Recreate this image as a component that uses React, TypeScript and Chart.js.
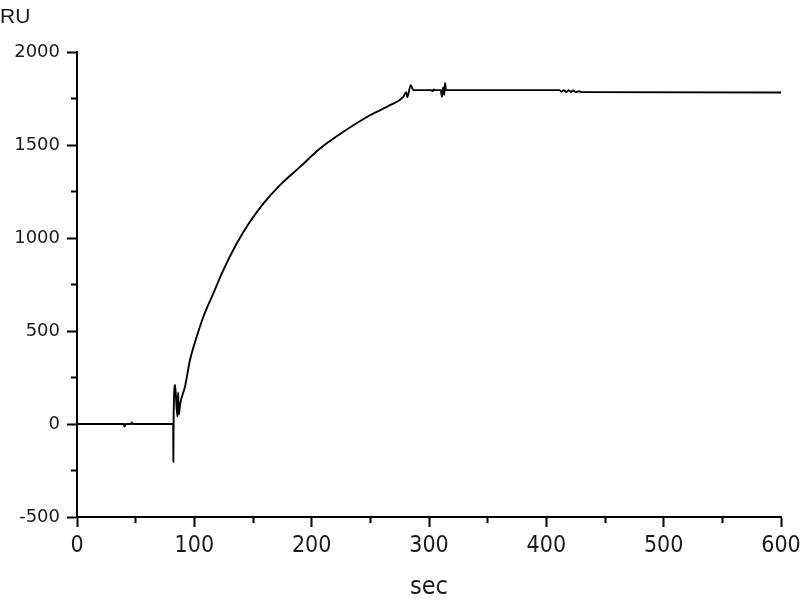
import { useEffect, useRef } from "react"
import { Chart, registerables } from "chart.js"

Chart.register(...registerables)

// sensorgram (seconds / response units)
const SECONDS = [
  0, 40, 40.5, 41.5, 46, 46.6, 47.5, 82, 82.1, 82.4, 83.6, 85.5, 86.2, 86.8, 88,
  92, 96.3, 102, 107.7, 116.2, 124.7, 136.1, 147.4, 158.8, 173, 190.1, 207.1,
  227, 249.7, 266.8, 278.1, 280.5, 281.5, 284.4, 286.7, 302, 303, 304, 305,
  310, 311, 312, 313, 313.6, 314.5, 411, 413, 415, 417, 419, 421, 423, 425,
  428, 430, 600,
]
const RU = [
  0, 0, -14, 0, 0, 9, 0, 0, -203, 60, 210, 40, 170, 50, 110,
  200, 344, 469, 577, 703, 828, 971, 1088, 1186, 1285, 1383, 1482,
  1572, 1661, 1715, 1760, 1785, 1758, 1823, 1796, 1796, 1790, 1800, 1796,
  1796, 1760, 1810, 1770, 1835, 1796, 1796, 1788, 1796, 1786, 1795, 1786, 1794, 1785,
  1790, 1785, 1783,
]

const X_MIN = 0
const X_MAX = 600
const Y_MIN = -500
const Y_MAX = 2000
const X_TITLE = "sec"
const Y_TITLE = "RU"

const INK = "#1a1a1a"

export default function App() {
  const canvasRef = useRef<HTMLCanvasElement>(null)

  useEffect(() => {
    const canvas = canvasRef.current
    if (!canvas) return

    const chart = new Chart(canvas, {
      type: "line",
      data: {
        datasets: [
          {
            label: Y_TITLE,
            data: SECONDS.map((s, i) => ({ x: s, y: RU[i] })),
            borderColor: "#000",
            borderWidth: 1.9,
            pointRadius: 0,
            cubicInterpolationMode: "monotone",
            fill: false,
          },
        ],
      },
      options: {
        animation: false,
        responsive: true,
        maintainAspectRatio: false,
        layout: { padding: 0 },
        plugins: {
          legend: { display: false },
          tooltip: { enabled: false },
          title: {
            display: true,
            text: Y_TITLE,
            align: "start",
            color: INK,
            font: { family: "'Liberation Sans', Arial, sans-serif", size: 21, weight: "normal", lineHeight: 1.2 },
            padding: { top: 5, bottom: 22 },
          },
        },
        scales: {
          x: {
            type: "linear",
            min: X_MIN,
            max: X_MAX,
            afterFit: (scale) => {
              scale.height = 83
              scale.paddingRight = 19
              scale.paddingLeft = 0
            },
            border: { display: true, color: "#000", width: 2 },
            grid: {
              drawOnChartArea: false,
              drawTicks: true,
              tickLength: 10,
              tickColor: "#000",
              tickWidth: 2,
              // minor ticks (every 50 s) are drawn short, from the axis outwards
              tickBorderDash: (ctx) => (ctx.tick && ctx.tick.value % 100 !== 0 ? [5, 40] : []),
            },
            ticks: {
              stepSize: 50,
              autoSkip: false,
              maxRotation: 0,
              padding: 5,
              color: INK,
              font: { family: "'DejaVu Sans Condensed', 'DejaVu Sans', sans-serif", size: 23 },
              callback: (v) => (Number(v) % 100 === 0 ? String(v) : ""),
            },
            title: {
              display: true,
              text: X_TITLE,
              color: INK,
              font: { family: "'Liberation Sans Narrow', 'DejaVu Sans Condensed', sans-serif", size: 25, lineHeight: 1 },
              padding: 0,
            },
          },
          y: {
            type: "linear",
            min: Y_MIN,
            max: Y_MAX,
            afterFit: (scale) => {
              scale.width = 77
            },
            border: { display: true, color: "#000", width: 2 },
            grid: {
              drawOnChartArea: false,
              drawTicks: true,
              tickLength: 10,
              tickColor: "#000",
              tickWidth: 2,
              // left-axis tick lines run from the outer end to the axis
              tickBorderDash: (ctx) => (ctx.tick && ctx.tick.value % 500 !== 0 ? [0, 4, 5, 40] : []),
            },
            ticks: {
              stepSize: 250,
              autoSkip: false,
              padding: 7,
              color: INK,
              font: { family: "'DejaVu Sans', sans-serif", size: 18 },
              callback: (v) => (Number(v) % 500 === 0 ? String(v) : ""),
            },
          },
        },
      },
    })

    return () => {
      chart.destroy()
    }
  }, [])

  return (
    <div style={{ position: "fixed", left: 0, top: 0, width: 800, height: 600, background: "#fff" }}>
      <canvas ref={canvasRef} />
    </div>
  )
}
